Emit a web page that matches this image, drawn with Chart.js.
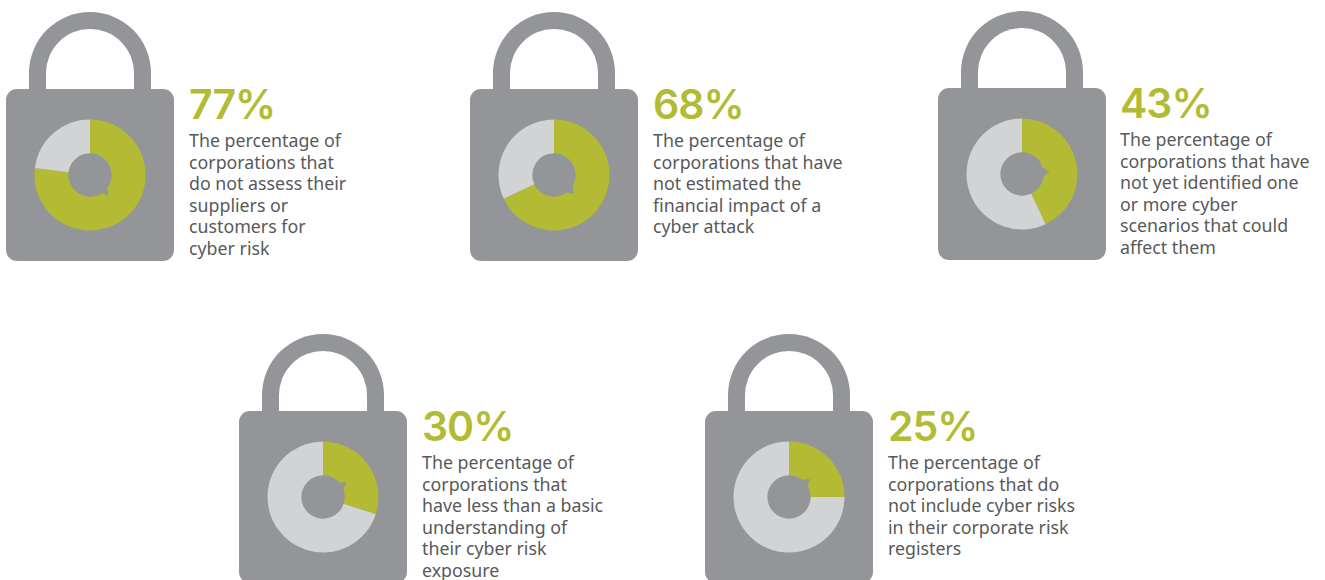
<!DOCTYPE html>
<html>
<head>
<meta charset="utf-8">
<script src="https://cdn.jsdelivr.net/npm/chart.js@4"></script>
<style>
html, body { margin: 0; padding: 0; background: #fff; overflow: hidden; }
body { position: relative; width: 1325px; height: 580px; font-family: "Noto Sans", sans-serif; }
.body, .shackle, canvas, .pct, .desc { position: absolute; }
.body { width: 168px; height: 172px; background: #939598; border-radius: 11px; }
.shackle { width: 88px; height: 78px; border: 17px solid #939598; border-bottom: 0; border-radius: 61px 61px 0 0; }
.pct { font-family: Inter, sans-serif; font-size: 41px; font-weight: 600; letter-spacing: -1px; color: #b2bb33; line-height: 44px; }
.desc { font-size: 17.8px; line-height: 21.5px; color: #58595b; white-space: nowrap; }
</style>
</head>
<body>
<script>
// Figures shown on each padlock
var percents = [77, 68, 43, 30, 25];
var captions = [
    ['The percentage of', 'corporations that', 'do not assess their', 'suppliers or', 'customers for', 'cyber risk'],
    ['The percentage of', 'corporations that have', 'not estimated the', 'financial impact of a', 'cyber attack'],
    ['The percentage of', 'corporations that have', 'not yet identified one', 'or more cyber', 'scenarios that could', 'affect them'],
    ['The percentage of', 'corporations that', 'have less than a basic', 'understanding of', 'their cyber risk', 'exposure'],
    ['The percentage of', 'corporations that do', 'not include cyber risks', 'in their corporate risk', 'registers']
];

// Left and top of each padlock body, text column, and the speech bubble tail direction in degrees
var lockX = [6, 470, 938, 239, 705];
var lockY = [89, 89, 88, 411, 411];
var textX = [189, 653, 1120, 422, 888];
var tailAngle = [46, 41, -7, -33, -43];

var GREY = '#939598', GREEN = '#b2bb33', LIGHT = '#d1d3d4';

// Tail of the speech bubble in the middle of the ring
var bubbleTail = {
    id: 'bubbleTail',
    afterDraw: function (chart) {
        var arc = chart.getDatasetMeta(0).data[0];
        var a = chart.options.plugins.bubbleTail.angle * Math.PI / 180;
        var r = arc.innerRadius;
        var c = chart.ctx;
        c.save();
        c.translate(arc.x, arc.y);
        c.rotate(a);
        c.fillStyle = GREY;
        c.beginPath();
        c.moveTo(r - 5, -7);
        c.lineTo(r + 6, 1);
        c.lineTo(r - 5, 7);
        c.closePath();
        c.fill();
        c.restore();
    }
};

function add(cls, left, top) {
    var el = document.createElement('div');
    el.className = cls;
    el.style.left = left + 'px';
    el.style.top = top + 'px';
    document.body.appendChild(el);
    return el;
}

percents.forEach(function (p, i) {
    var x = lockX[i], y = lockY[i];
    add('shackle', x + 23, y - 77);
    add('body', x, y);

    var cv = document.createElement('canvas');
    cv.width = 114;
    cv.height = 114;
    cv.style.left = (x + 27) + 'px';
    cv.style.top = (y + 29) + 'px';
    document.body.appendChild(cv);

    new Chart(cv.getContext('2d'), {
        type: 'doughnut',
        data: {
            labels: ['Yes', 'Other'],
            datasets: [{
                data: [p, 100 - p],
                backgroundColor: [GREEN, LIGHT],
                borderWidth: 0
            }]
        },
        plugins: [bubbleTail],
        options: {
            responsive: false,
            animation: false,
            cutout: '39%',
            layout: { padding: 1.5 },
            plugins: {
                legend: { display: false },
                tooltip: { enabled: false },
                bubbleTail: { angle: tailAngle[i] }
            }
        }
    });

    add('pct', textX[i], y - 7).textContent = p + '%';
    add('desc', textX[i], y + 41).innerHTML = captions[i].join('<br>');
});
</script>
</body>
</html>
